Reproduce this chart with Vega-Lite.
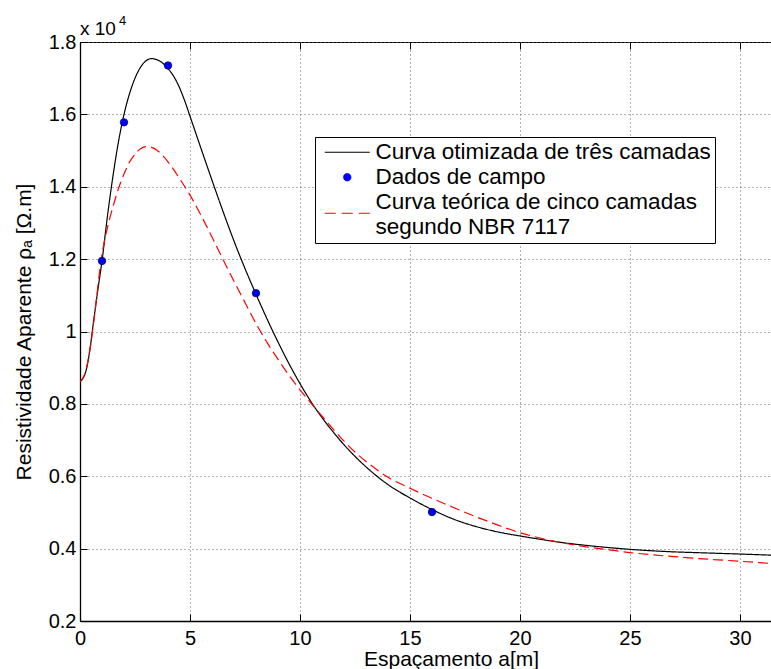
{
  "$schema": "https://vega.github.io/schema/vega-lite/v6.json",
  "width": 691,
  "height": 579,
  "autosize": {"type": "none"},
  "padding": {"left": 80, "top": 42, "right": 0, "bottom": 48},
  "background": "white",
  "config": {
    "view": {"stroke": "black", "strokeWidth": 1},
    "font": "Liberation Sans",
    "axis": {
      "labelFont": "Liberation Sans",
      "titleFont": "Liberation Sans",
      "labelFontSize": 20,
      "titleFontSize": 21,
      "titleFontWeight": "normal",
      "labelColor": "black",
      "titleColor": "black",
      "domainColor": "black",
      "domainWidth": 1.3,
      "tickColor": "black",
      "tickWidth": 1,
      "tickSize": -7,
      "gridColor": "#606060",
      "gridDash": [1, 3],
      "gridWidth": 1,
      "gridOpacity": 1,
      "labelFlush": false,
      "labelOverlap": false
    }
  },
  "datasets": {
    "curvas": [
      {"a": 0, "rho": 8620, "serie": "Curva otimizada de três camadas"},
      {"a": 0.15, "rho": 8720, "serie": "Curva otimizada de três camadas"},
      {"a": 0.3, "rho": 8980, "serie": "Curva otimizada de três camadas"},
      {"a": 0.45, "rho": 9500, "serie": "Curva otimizada de três camadas"},
      {"a": 0.6, "rho": 10200, "serie": "Curva otimizada de três camadas"},
      {"a": 0.8, "rho": 11100, "serie": "Curva otimizada de três camadas"},
      {"a": 1, "rho": 11950, "serie": "Curva otimizada de três camadas"},
      {"a": 1.25, "rho": 13200, "serie": "Curva otimizada de três camadas"},
      {"a": 1.5, "rho": 14300, "serie": "Curva otimizada de três camadas"},
      {"a": 1.75, "rho": 15250, "serie": "Curva otimizada de três camadas"},
      {"a": 2, "rho": 16000, "serie": "Curva otimizada de três camadas"},
      {"a": 2.25, "rho": 16570, "serie": "Curva otimizada de três camadas"},
      {"a": 2.5, "rho": 17000, "serie": "Curva otimizada de três camadas"},
      {"a": 2.75, "rho": 17300, "serie": "Curva otimizada de três camadas"},
      {"a": 3, "rho": 17480, "serie": "Curva otimizada de três camadas"},
      {"a": 3.25, "rho": 17540, "serie": "Curva otimizada de três camadas"},
      {"a": 3.5, "rho": 17510, "serie": "Curva otimizada de três camadas"},
      {"a": 3.75, "rho": 17420, "serie": "Curva otimizada de três camadas"},
      {"a": 4, "rho": 17270, "serie": "Curva otimizada de três camadas"},
      {"a": 4.25, "rho": 17060, "serie": "Curva otimizada de três camadas"},
      {"a": 4.5, "rho": 16770, "serie": "Curva otimizada de três camadas"},
      {"a": 4.75, "rho": 16390, "serie": "Curva otimizada de três camadas"},
      {"a": 5, "rho": 15950, "serie": "Curva otimizada de três camadas"},
      {"a": 5.5, "rho": 15060, "serie": "Curva otimizada de três camadas"},
      {"a": 6, "rho": 14180, "serie": "Curva otimizada de três camadas"},
      {"a": 6.5, "rho": 13320, "serie": "Curva otimizada de três camadas"},
      {"a": 7, "rho": 12500, "serie": "Curva otimizada de três camadas"},
      {"a": 7.5, "rho": 11740, "serie": "Curva otimizada de três camadas"},
      {"a": 8, "rho": 11030, "serie": "Curva otimizada de três camadas"},
      {"a": 8.5, "rho": 10350, "serie": "Curva otimizada de três camadas"},
      {"a": 9, "rho": 9710, "serie": "Curva otimizada de três camadas"},
      {"a": 9.5, "rho": 9110, "serie": "Curva otimizada de três camadas"},
      {"a": 10, "rho": 8560, "serie": "Curva otimizada de três camadas"},
      {"a": 10.5, "rho": 8060, "serie": "Curva otimizada de três camadas"},
      {"a": 11, "rho": 7620, "serie": "Curva otimizada de três camadas"},
      {"a": 11.5, "rho": 7230, "serie": "Curva otimizada de três camadas"},
      {"a": 12, "rho": 6870, "serie": "Curva otimizada de três camadas"},
      {"a": 12.5, "rho": 6550, "serie": "Curva otimizada de três camadas"},
      {"a": 13, "rho": 6260, "serie": "Curva otimizada de três camadas"},
      {"a": 13.5, "rho": 6000, "serie": "Curva otimizada de três camadas"},
      {"a": 14, "rho": 5770, "serie": "Curva otimizada de três camadas"},
      {"a": 15, "rho": 5400, "serie": "Curva otimizada de três camadas"},
      {"a": 16, "rho": 5080, "serie": "Curva otimizada de três camadas"},
      {"a": 17, "rho": 4810, "serie": "Curva otimizada de três camadas"},
      {"a": 18, "rho": 4610, "serie": "Curva otimizada de três camadas"},
      {"a": 19, "rho": 4460, "serie": "Curva otimizada de três camadas"},
      {"a": 20, "rho": 4350, "serie": "Curva otimizada de três camadas"},
      {"a": 21, "rho": 4250, "serie": "Curva otimizada de três camadas"},
      {"a": 22, "rho": 4160, "serie": "Curva otimizada de três camadas"},
      {"a": 23, "rho": 4090, "serie": "Curva otimizada de três camadas"},
      {"a": 24, "rho": 4030, "serie": "Curva otimizada de três camadas"},
      {"a": 25, "rho": 3980, "serie": "Curva otimizada de três camadas"},
      {"a": 26, "rho": 3940, "serie": "Curva otimizada de três camadas"},
      {"a": 27, "rho": 3910, "serie": "Curva otimizada de três camadas"},
      {"a": 28, "rho": 3890, "serie": "Curva otimizada de três camadas"},
      {"a": 29, "rho": 3870, "serie": "Curva otimizada de três camadas"},
      {"a": 30, "rho": 3850, "serie": "Curva otimizada de três camadas"},
      {"a": 31.41, "rho": 3820, "serie": "Curva otimizada de três camadas"},
      {"a": 0, "rho": 8620, "serie": "Curva teórica de cinco camadas segundo NBR 7117"},
      {"a": 0.2, "rho": 8800, "serie": "Curva teórica de cinco camadas segundo NBR 7117"},
      {"a": 0.45, "rho": 9490, "serie": "Curva teórica de cinco camadas segundo NBR 7117"},
      {"a": 0.6, "rho": 10150, "serie": "Curva teórica de cinco camadas segundo NBR 7117"},
      {"a": 0.76, "rho": 10960, "serie": "Curva teórica de cinco camadas segundo NBR 7117"},
      {"a": 0.91, "rho": 11750, "serie": "Curva teórica de cinco camadas segundo NBR 7117"},
      {"a": 1.05, "rho": 12300, "serie": "Curva teórica de cinco camadas segundo NBR 7117"},
      {"a": 1.25, "rho": 12880, "serie": "Curva teórica de cinco camadas segundo NBR 7117"},
      {"a": 1.5, "rho": 13450, "serie": "Curva teórica de cinco camadas segundo NBR 7117"},
      {"a": 1.75, "rho": 13950, "serie": "Curva teórica de cinco camadas segundo NBR 7117"},
      {"a": 2, "rho": 14350, "serie": "Curva teórica de cinco camadas segundo NBR 7117"},
      {"a": 2.25, "rho": 14680, "serie": "Curva teórica de cinco camadas segundo NBR 7117"},
      {"a": 2.5, "rho": 14900, "serie": "Curva teórica de cinco camadas segundo NBR 7117"},
      {"a": 2.75, "rho": 15050, "serie": "Curva teórica de cinco camadas segundo NBR 7117"},
      {"a": 3, "rho": 15110, "serie": "Curva teórica de cinco camadas segundo NBR 7117"},
      {"a": 3.25, "rho": 15090, "serie": "Curva teórica de cinco camadas segundo NBR 7117"},
      {"a": 3.5, "rho": 15010, "serie": "Curva teórica de cinco camadas segundo NBR 7117"},
      {"a": 3.75, "rho": 14870, "serie": "Curva teórica de cinco camadas segundo NBR 7117"},
      {"a": 4, "rho": 14690, "serie": "Curva teórica de cinco camadas segundo NBR 7117"},
      {"a": 4.25, "rho": 14480, "serie": "Curva teórica de cinco camadas segundo NBR 7117"},
      {"a": 4.5, "rho": 14250, "serie": "Curva teórica de cinco camadas segundo NBR 7117"},
      {"a": 5, "rho": 13770, "serie": "Curva teórica de cinco camadas segundo NBR 7117"},
      {"a": 5.5, "rho": 13210, "serie": "Curva teórica de cinco camadas segundo NBR 7117"},
      {"a": 6, "rho": 12610, "serie": "Curva teórica de cinco camadas segundo NBR 7117"},
      {"a": 6.5, "rho": 11990, "serie": "Curva teórica de cinco camadas segundo NBR 7117"},
      {"a": 7, "rho": 11390, "serie": "Curva teórica de cinco camadas segundo NBR 7117"},
      {"a": 7.5, "rho": 10800, "serie": "Curva teórica de cinco camadas segundo NBR 7117"},
      {"a": 8, "rho": 10220, "serie": "Curva teórica de cinco camadas segundo NBR 7117"},
      {"a": 8.5, "rho": 9700, "serie": "Curva teórica de cinco camadas segundo NBR 7117"},
      {"a": 9, "rho": 9230, "serie": "Curva teórica de cinco camadas segundo NBR 7117"},
      {"a": 9.5, "rho": 8790, "serie": "Curva teórica de cinco camadas segundo NBR 7117"},
      {"a": 10, "rho": 8390, "serie": "Curva teórica de cinco camadas segundo NBR 7117"},
      {"a": 10.5, "rho": 8020, "serie": "Curva teórica de cinco camadas segundo NBR 7117"},
      {"a": 11, "rho": 7660, "serie": "Curva teórica de cinco camadas segundo NBR 7117"},
      {"a": 11.5, "rho": 7310, "serie": "Curva teórica de cinco camadas segundo NBR 7117"},
      {"a": 12, "rho": 6970, "serie": "Curva teórica de cinco camadas segundo NBR 7117"},
      {"a": 12.5, "rho": 6670, "serie": "Curva teórica de cinco camadas segundo NBR 7117"},
      {"a": 13, "rho": 6410, "serie": "Curva teórica de cinco camadas segundo NBR 7117"},
      {"a": 13.5, "rho": 6180, "serie": "Curva teórica de cinco camadas segundo NBR 7117"},
      {"a": 14, "rho": 5970, "serie": "Curva teórica de cinco camadas segundo NBR 7117"},
      {"a": 15, "rho": 5670, "serie": "Curva teórica de cinco camadas segundo NBR 7117"},
      {"a": 16, "rho": 5390, "serie": "Curva teórica de cinco camadas segundo NBR 7117"},
      {"a": 17, "rho": 5130, "serie": "Curva teórica de cinco camadas segundo NBR 7117"},
      {"a": 18, "rho": 4880, "serie": "Curva teórica de cinco camadas segundo NBR 7117"},
      {"a": 19, "rho": 4650, "serie": "Curva teórica de cinco camadas segundo NBR 7117"},
      {"a": 20, "rho": 4440, "serie": "Curva teórica de cinco camadas segundo NBR 7117"},
      {"a": 21, "rho": 4280, "serie": "Curva teórica de cinco camadas segundo NBR 7117"},
      {"a": 22, "rho": 4150, "serie": "Curva teórica de cinco camadas segundo NBR 7117"},
      {"a": 23, "rho": 4050, "serie": "Curva teórica de cinco camadas segundo NBR 7117"},
      {"a": 24, "rho": 3970, "serie": "Curva teórica de cinco camadas segundo NBR 7117"},
      {"a": 25, "rho": 3890, "serie": "Curva teórica de cinco camadas segundo NBR 7117"},
      {"a": 26, "rho": 3830, "serie": "Curva teórica de cinco camadas segundo NBR 7117"},
      {"a": 27, "rho": 3780, "serie": "Curva teórica de cinco camadas segundo NBR 7117"},
      {"a": 28, "rho": 3730, "serie": "Curva teórica de cinco camadas segundo NBR 7117"},
      {"a": 29, "rho": 3690, "serie": "Curva teórica de cinco camadas segundo NBR 7117"},
      {"a": 30, "rho": 3650, "serie": "Curva teórica de cinco camadas segundo NBR 7117"},
      {"a": 31.41, "rho": 3590, "serie": "Curva teórica de cinco camadas segundo NBR 7117"}
    ],
    "campo": [
      {"a": 1, "rho": 11950, "serie": "Dados de campo"},
      {"a": 2, "rho": 15780, "serie": "Dados de campo"},
      {"a": 4, "rho": 17350, "serie": "Dados de campo"},
      {"a": 8, "rho": 11060, "serie": "Dados de campo"},
      {"a": 16, "rho": 5010, "serie": "Dados de campo"}
    ]
  },
  "resolve": {"axis": {"x": "independent"}},
  "layer": [
    {
      "data": {"name": "curvas"},
      "mark": {"type": "line", "interpolate": "monotone", "strokeWidth": 1.2, "clip": true},
      "encoding": {
        "x": {
          "field": "a", "type": "quantitative",
          "scale": {"domain": [0, 31.41], "nice": false, "zero": false},
          "axis": {
            "orient": "bottom",
            "values": [0, 5, 10, 15, 20, 25, 30],
            "title": "Espaçamento a[m]",
            "labelPadding": 14,
            "titleX": 371,
            "titleY": 44,
            "titleBaseline": "alphabetic",
            "grid": true
          }
        },
        "y": {
          "field": "rho", "type": "quantitative",
          "scale": {"domain": [2000, 18000], "nice": false, "zero": false},
          "axis": {
            "values": [2000, 4000, 6000, 8000, 10000, 12000, 14000, 16000, 18000],
            "labelExpr": "format(datum.value / 10000, '.1~f')",
            "title": "Resistividade Aparente ρₐ [Ω.m]",
            "labelPadding": 11,
            "titlePadding": 14,
            "grid": true
          }
        },
        "color": {
          "field": "serie", "type": "nominal",
          "scale": {
            "domain": ["Curva otimizada de três camadas", "Dados de campo", "Curva teórica de cinco camadas segundo NBR 7117"],
            "range": ["#000000", "#0000ff", "#ff0000"]
          },
          "legend": {
            "title": null,
            "orient": "none",
            "legendX": 235,
            "legendY": 95,
            "strokeColor": "black",
            "fillColor": "white",
            "padding": 4,
            "cornerRadius": 0,
            "labelFont": "Liberation Sans",
            "labelFontSize": 22.5,
            "labelColor": "black",
            "labelLimit": 600,
            "labelOffset": 17,
            "symbolOffset": 17,
            "rowPadding": 2,
            "symbolSize": 2025,
            "symbolType": "stroke",
            "symbolStrokeWidth": 1.2,
            "labelExpr": "datum.label == 'Curva teórica de cinco camadas segundo NBR 7117' ? ['Curva teórica de cinco camadas', '\u2005segundo NBR 7117'] : (datum.label == 'Curva otimizada de três camadas' ? datum.label + '\u2003' : datum.label)",
            "encode": {
              "symbols": {
                "update": {
                  "shape": {"signal": "datum.value == 'Dados de campo' ? 'circle' : 'stroke'"},
                  "size": {"signal": "datum.value == 'Dados de campo' ? 55 : 2025"},
                  "fill": {"signal": "datum.value == 'Dados de campo' ? '#0000ff' : 'transparent'"},
                  "stroke": {"signal": "datum.value == 'Dados de campo' ? '#000066' : (datum.value == 'Curva otimizada de três camadas' ? '#000000' : '#ff0000')"},
                  "strokeDash": {"signal": "datum.value == 'Curva teórica de cinco camadas segundo NBR 7117' ? [11, 6] : [1, 0]"},
                  "strokeWidth": {"signal": "datum.value == 'Dados de campo' ? 0.8 : 1.2"},
                  "opacity": {"value": 1}
                }
              },
              "labels": {
                "update": {
                  "dy": {"signal": "datum.value == 'Curva teórica de cinco camadas segundo NBR 7117' ? -11 : 0"}
                }
              }
            }
          }
        },
        "strokeDash": {
          "field": "serie", "type": "nominal",
          "scale": {
            "domain": ["Curva otimizada de três camadas", "Curva teórica de cinco camadas segundo NBR 7117"],
            "range": [[1, 0], [10, 5]]
          },
          "legend": null
        }
      }
    },
    {
      "data": {"name": "campo"},
      "mark": {"type": "point", "filled": true, "size": 55, "stroke": "#000066", "strokeWidth": 0.8, "opacity": 1},
      "encoding": {
        "x": {
          "field": "a", "type": "quantitative",
          "scale": {"domain": [0, 31.41], "nice": false, "zero": false},
          "axis": {
            "orient": "top",
            "values": [0, 5, 10, 15, 20, 25, 30],
            "labels": false,
            "domain": false,
            "grid": false,
            "title": null
          }
        },
        "y": {"field": "rho", "type": "quantitative"},
        "color": {"field": "serie", "type": "nominal"}
      }
    },
    {
      "data": {"values": [{"t": "x 10"}]},
      "mark": {"type": "text", "align": "left", "baseline": "bottom", "fontSize": 19, "font": "Liberation Sans", "color": "black", "dy": -3},
      "encoding": {
        "x": {"datum": 0, "type": "quantitative", "axis": null},
        "y": {"datum": 18000, "type": "quantitative"},
        "text": {"field": "t"}
      }
    },
    {
      "data": {"values": [{"t": "4"}]},
      "mark": {"type": "text", "align": "left", "baseline": "bottom", "fontSize": 13, "font": "Liberation Sans", "color": "black", "dx": 39, "dy": -14},
      "encoding": {
        "x": {"datum": 0, "type": "quantitative", "axis": null},
        "y": {"datum": 18000, "type": "quantitative"},
        "text": {"field": "t"}
      }
    }
  ]
}
